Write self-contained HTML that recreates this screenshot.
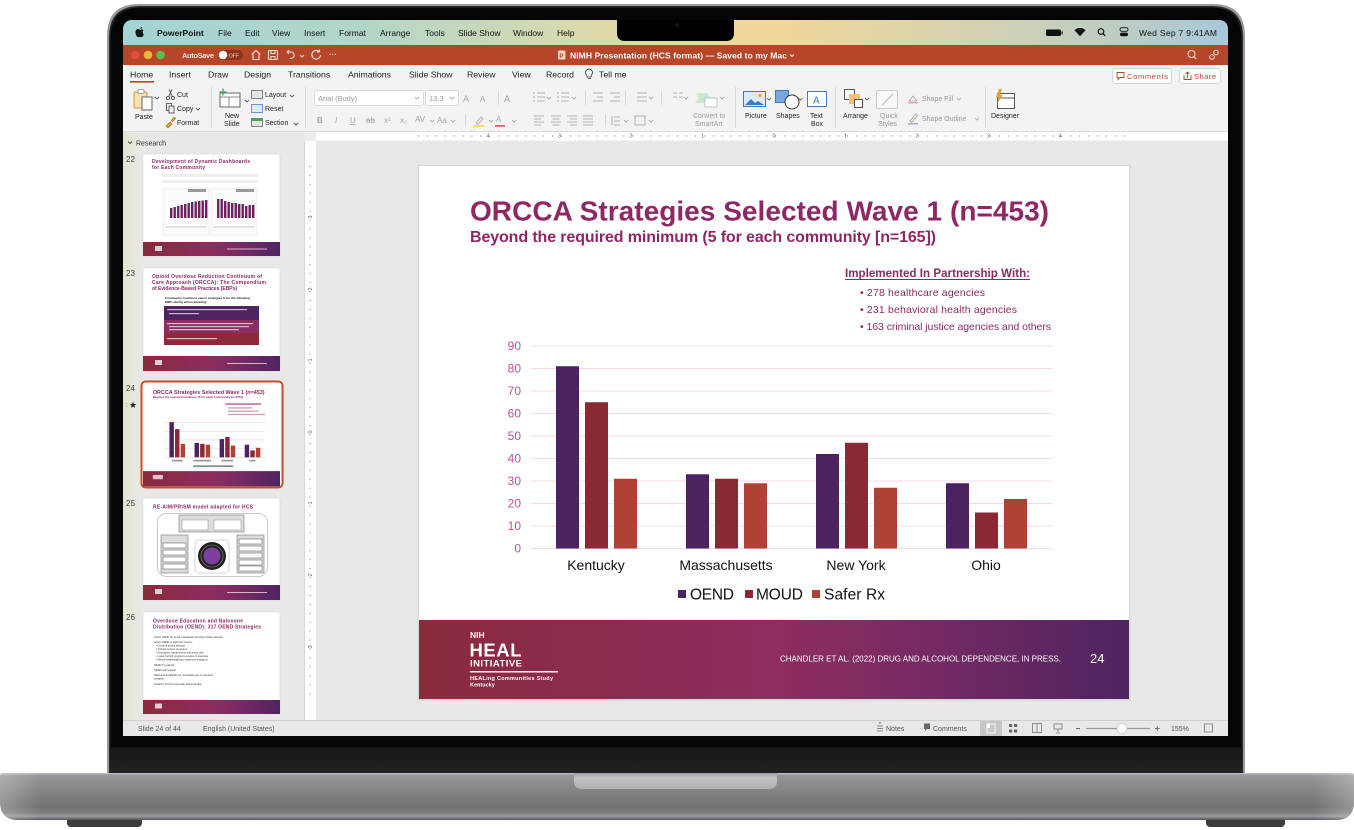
<!DOCTYPE html>
<html><head><meta charset="utf-8">
<style>
html,body{margin:0;padding:0;background:#fff;width:1354px;height:830px;overflow:hidden}
svg{display:block}
text{font-family:"Liberation Sans",Arial,sans-serif}
</style></head><body>
<svg width="1354" height="830" viewBox="0 0 1354 830" xmlns="http://www.w3.org/2000/svg">
<defs>
  <linearGradient id="menuG" x1="123" x2="1228" y1="0" y2="0" gradientUnits="userSpaceOnUse">
    <stop offset="0" stop-color="#A3D3D5"/>
    <stop offset="0.22" stop-color="#B3D6C8"/>
    <stop offset="0.38" stop-color="#D2D9B3"/>
    <stop offset="0.5" stop-color="#EDD89C"/>
    <stop offset="0.6" stop-color="#EFD79A"/>
    <stop offset="0.75" stop-color="#D8D2AE"/>
    <stop offset="0.9" stop-color="#BDCDC3"/>
    <stop offset="1" stop-color="#A7C8DA"/>
  </linearGradient>
  <linearGradient id="foot" x1="0" x2="1" y1="0" y2="0">
    <stop offset="0" stop-color="#8A2A3B"/>
    <stop offset="0.25" stop-color="#8C2B4E"/>
    <stop offset="0.5" stop-color="#8F2D60"/>
    <stop offset="0.75" stop-color="#722963"/>
    <stop offset="1" stop-color="#4E2461"/>
  </linearGradient>
  <linearGradient id="baseG" x1="0" x2="0" y1="773" y2="820" gradientUnits="userSpaceOnUse">
    <stop offset="0" stop-color="#c4c4c8"/>
    <stop offset="0.05" stop-color="#96969a"/>
    <stop offset="0.4" stop-color="#838387"/>
    <stop offset="0.72" stop-color="#727276"/>
    <stop offset="0.85" stop-color="#7e7e82"/>
    <stop offset="0.92" stop-color="#9a9a9e"/>
    <stop offset="1" stop-color="#56565a"/>
  </linearGradient>
  <linearGradient id="baseH" x1="0" x2="1354" y1="0" y2="0" gradientUnits="userSpaceOnUse">
    <stop offset="0" stop-color="#ffffff" stop-opacity="0.25"/>
    <stop offset="0.03" stop-color="#ffffff" stop-opacity="0"/>
    <stop offset="0.97" stop-color="#ffffff" stop-opacity="0"/>
    <stop offset="1" stop-color="#ffffff" stop-opacity="0.25"/>
  </linearGradient>
  <linearGradient id="notchG" x1="0" x2="0" y1="773" y2="789" gradientUnits="userSpaceOnUse">
    <stop offset="0" stop-color="#9c9ca0"/>
    <stop offset="0.3" stop-color="#c2c2c6"/>
    <stop offset="1" stop-color="#b0b0b4"/>
  </linearGradient>
  <linearGradient id="chinG" x1="0" x2="0" y1="747" y2="773" gradientUnits="userSpaceOnUse">
    <stop offset="0" stop-color="#161616"/>
    <stop offset="1" stop-color="#222222"/>
  </linearGradient>
  <linearGradient id="panelTint" x1="123" x2="150" y1="0" y2="0" gradientUnits="userSpaceOnUse">
    <stop offset="0" stop-color="#E2E6CC"/>
    <stop offset="1" stop-color="#E8E8E8" stop-opacity="0"/>
  </linearGradient>
  <pattern id="rtick" x="418" y="131" width="8.9375" height="10" patternUnits="userSpaceOnUse">
    <rect x="0" y="4" width="0.7" height="2" fill="#9a9a9a"/>
  </pattern>
  <pattern id="vtick" x="304" y="166" width="12" height="8.9375" patternUnits="userSpaceOnUse">
    <rect x="5" y="0" width="2" height="0.7" fill="#9a9a9a"/>
  </pattern>
  <clipPath id="scr"><path d="M123,736 L123,30 Q123,20 133,20 L1218,20 Q1228,20 1228,30 L1228,736 Z"/></clipPath>
</defs>

<!-- LAPTOP BASE -->
<rect x="67" y="815" width="75" height="12" rx="4" fill="#3c3c3e"/>
<rect x="1206" y="815" width="79" height="12" rx="4" fill="#3c3c3e"/>
<path d="M2,773 L1352,773 Q1354,773 1354,776 L1354,802 Q1354,820 1336,820 L18,820 Q0,820 0,802 L0,776 Q0,773 2,773 Z" fill="url(#baseG)"/>
<rect x="0" y="773" width="1354" height="47" fill="url(#baseH)"/>
<path d="M574,773 L777,773 L777,781 Q777,789 769,789 L582,789 Q574,789 574,781 Z" fill="url(#notchG)"/>

<!-- LID -->
<path d="M107,773 L107,36 Q107,4 139,4 L1213,4 Q1245,4 1245,36 L1245,773 Z" fill="#9a9a9c"/>
<path d="M109,773 L109,37 Q109,6 140,6 L1212,6 Q1243,6 1243,37 L1243,773 Z" fill="#2a2a2a"/>
<path d="M110.5,773 L110.5,38 Q110.5,7.5 141,7.5 L1211,7.5 Q1241.5,7.5 1241.5,38 L1241.5,773 Z" fill="#050505"/>
<rect x="110" y="747" width="1132" height="26" fill="url(#chinG)"/>

<!-- SCREEN -->
<g clip-path="url(#scr)">
  <rect x="123" y="20" width="1105" height="716" fill="#E8E8E8"/>
  <!-- menu bar -->
  <rect x="123" y="20" width="1105" height="25" fill="url(#menuG)"/>
  <path d="M139.6,29.6 c-1.4,-0.9 -4.1,-0.6 -4.1,2.7 c0,2.6 1.6,4.9 2.7,4.9 c0.7,0 1,-0.4 1.6,-0.4 c0.6,0 0.9,0.4 1.6,0.4 c1,0 2.2,-2 2.5,-3 c-1.4,-0.6 -1.7,-2.8 -0.3,-3.8 c-0.8,-1.2 -2.4,-1.3 -3,-0.8 c-0.5,0.3 -0.7,0.3 -1,0z M140.3,29 c0,-1.2 0.8,-2 1.8,-2.1 c0.1,1.1 -0.8,2.1 -1.8,2.1z" fill="#111"/>
  <g font-size="8.5" fill="#111">
    <text x="157" y="36" font-weight="bold">PowerPoint</text>
    <text x="218" y="36">File</text>
    <text x="245" y="36">Edit</text>
    <text x="272" y="36">View</text>
    <text x="304" y="36">Insert</text>
    <text x="339" y="36">Format</text>
    <text x="380" y="36">Arrange</text>
    <text x="425" y="36">Tools</text>
    <text x="458" y="36">Slide Show</text>
    <text x="513" y="36">Window</text>
    <text x="557" y="36">Help</text>
    <text x="1139" y="36" textLength="78">Wed Sep 7 9:41AM</text>
  </g>
  <rect x="1046" y="29.5" width="15" height="6.5" rx="1.5" fill="#111"/>
  <rect x="1061.5" y="31.3" width="1.2" height="3" fill="#111"/>
  <path d="M1074.5,30.2 a8,8 0 0 1 11,0 l-5.5,6 z" fill="#111"/>
  <circle cx="1101" cy="31.5" r="2.8" fill="none" stroke="#111" stroke-width="1.2"/>
  <line x1="1103" y1="33.6" x2="1105.2" y2="35.8" stroke="#111" stroke-width="1.3"/>
  <rect x="1120" y="27.7" width="8" height="3.6" rx="1.8" fill="none" stroke="#111" stroke-width="0.9"/>
  <rect x="1120" y="32.6" width="8" height="3.6" rx="1.8" fill="#111"/>
  <!-- notch -->
  <path d="M617,18 L734,18 L734,33 Q734,41 726,41 L625,41 Q617,41 617,33 Z" fill="#000"/>
  <circle cx="677" cy="25" r="2" fill="#15151f"/>

  <!-- title bar -->
  <rect x="123" y="45" width="1105" height="20" fill="#B5462A"/>
  <circle cx="135" cy="55" r="4.3" fill="#E5493F"/>
  <circle cx="148" cy="55" r="4.3" fill="#F2B53A"/>
  <circle cx="160.5" cy="55" r="4.3" fill="#5BC149"/>
  <text x="182" y="58" font-size="7.5" font-weight="bold" fill="#F7E3DC" textLength="32">AutoSave</text>
  <rect x="218" y="50" width="25" height="10" rx="5" fill="#8E3219"/>
  <circle cx="223" cy="55" r="4.3" fill="#fff"/>
  <text x="229" y="57.3" font-size="5" fill="#F3D6CC">OFF</text>
  <g fill="none" stroke="#F6DED6" stroke-width="1.1">
    <path d="M251.5,54.5 L256,50.5 L260.5,54.5 M253,53.5 V59.5 H259 V53.5"/>
    <rect x="268.5" y="50.5" width="9" height="9" rx="1.2"/>
    <path d="M271,50.5 v3 h4 v-3 M271,59.5 v-3 h4 v3"/>
    <path d="M287,52 h4 a3.2,3.2 0 0 1 0,6.4 h-1.5 M287,52 l2,-2 M287,52 l2,2"/>
    <path d="M300,55 l2,2 l2,-2"/>
    <path d="M319.5,52 a4.3,4.3 0 1 0 1,3 M319.5,52 v-2.5 M319.5,52 h-2.5"/>
  </g>
  <text x="329" y="57" font-size="8" font-weight="bold" fill="#F6DED6">···</text>
  <rect x="558" y="50.5" width="7.5" height="9" rx="1" fill="#F4D3C8"/>
  <text x="559.4" y="58" font-size="6" font-weight="bold" fill="#B5462A">P</text>
  <text x="570" y="58.5" font-size="8.5" font-weight="bold" fill="#fff" textLength="217">NIMH Presentation (HCS format) — Saved to my Mac</text>
  <path d="M790,54.5 l2,2 l2,-2" fill="none" stroke="#fff" stroke-width="0.9"/>
  <circle cx="1191.5" cy="54" r="3.5" fill="none" stroke="#F6DED6" stroke-width="1"/>
  <line x1="1194" y1="56.6" x2="1196.3" y2="59" stroke="#F6DED6" stroke-width="1.1"/>
  <circle cx="1216" cy="52.5" r="2.3" fill="none" stroke="#F6DED6" stroke-width="1"/>
  <circle cx="1212" cy="57" r="2.3" fill="none" stroke="#F6DED6" stroke-width="1"/>

  <!-- tabs + ribbon -->
  <rect x="123" y="65" width="1105" height="66" fill="#F3F3F3"/>
  <g font-size="8.7" fill="#222">
    <text x="130" y="77.5">Home</text>
    <text x="169" y="77.5">Insert</text>
    <text x="208" y="77.5">Draw</text>
    <text x="244" y="77.5">Design</text>
    <text x="288" y="77.5">Transitions</text>
    <text x="348" y="77.5">Animations</text>
    <text x="409" y="77.5">Slide Show</text>
    <text x="467" y="77.5">Review</text>
    <text x="512" y="77.5">View</text>
    <text x="546" y="77.5">Record</text>
    <text x="599" y="77.5">Tell me</text>
  </g>
  <rect x="130" y="81" width="24" height="1.6" fill="#B5462A"/>
  <path d="M586.5,75 a3.5,3.5 0 1 1 5,0 l-0.6,2 h-3.8 z M588,78.5 h3" fill="none" stroke="#333" stroke-width="0.8"/>
  <rect x="1112.5" y="68.5" width="59" height="15" rx="2.5" fill="#fff" stroke="#D6D6D6"/>
  <path d="M1117,72.5 h7 v5 h-4 l-2,2 v-2 h-1 z" fill="none" stroke="#B5462A" stroke-width="0.9"/>
  <text x="1127" y="79" font-size="7.5" fill="#B5462A" textLength="41">Comments</text>
  <rect x="1179.5" y="68.5" width="41" height="15" rx="2.5" fill="#fff" stroke="#D6D6D6"/>
  <path d="M1184,75 v4.5 h7 v-4.5 M1187.5,78 v-6 M1185.5,74 l2,-2 l2,2" fill="none" stroke="#B5462A" stroke-width="0.9"/>
  <text x="1194" y="79" font-size="7.5" fill="#B5462A" textLength="22">Share</text>

  <!-- ribbon content -->
  <g stroke="#D9D9D9" stroke-width="1">
    <line x1="211.5" y1="87" x2="211.5" y2="128"/>
    <line x1="305.5" y1="87" x2="305.5" y2="128"/>
    <line x1="735.5" y1="87" x2="735.5" y2="128"/>
    <line x1="835.5" y1="87" x2="835.5" y2="128"/>
    <line x1="985.5" y1="87" x2="985.5" y2="128"/>
    <line x1="498.5" y1="91" x2="498.5" y2="105"/>
    <line x1="465.5" y1="114" x2="465.5" y2="127"/>
    <line x1="585.5" y1="91" x2="585.5" y2="105"/>
    <line x1="625.5" y1="91" x2="625.5" y2="105"/>
    <line x1="661.5" y1="91" x2="661.5" y2="105"/>
    <line x1="605.5" y1="114" x2="605.5" y2="127"/>
  </g>
  <!-- paste -->
  <rect x="134" y="92" width="13" height="16" rx="1" fill="#F8DFB4" stroke="#D99A3A"/>
  <rect x="138" y="89.5" width="6" height="4" rx="1" fill="#fff" stroke="#888" stroke-width="0.8"/>
  <rect x="142" y="97" width="10" height="13" fill="#fff" stroke="#666"/>
  <g fill="none" stroke="#555" stroke-width="0.9">
    <path d="M155,97 l2,2 l2,-2"/>
    <circle cx="168" cy="98" r="1.6"/><circle cx="173" cy="98" r="1.6"/>
    <path d="M168.7,96.5 L172,89.5 M172.3,96.5 L169,89.5"/>
    <rect x="166.5" y="103.5" width="5" height="7"/><rect x="169" y="106" width="5" height="7" fill="#F3F3F3"/>
    <path d="M196,108 l2,2 l2,-2 M245,100 l2,2 l2,-2 M290,95 l2,2 l2,-2 M294,123 l2,2 l2,-2"/>
  </g>
  <path d="M166,126 l4,-4 l2,2 l-4,4 z M171,121 l3,-4 l1.5,1.5 l-3,3.5" fill="#E8A33C" stroke="#9A6A20" stroke-width="0.6"/>
  <g font-size="7" fill="#262626">
    <text x="135" y="119">Paste</text>
    <text x="177" y="97">Cut</text>
    <text x="177" y="111">Copy</text>
    <text x="177" y="125">Format</text>
    <text x="225" y="118">New</text>
    <text x="224" y="126">Slide</text>
    <text x="265" y="97">Layout</text>
    <text x="265" y="111">Reset</text>
    <text x="265" y="125">Section</text>
    <text x="745" y="118">Picture</text>
    <text x="776" y="118">Shapes</text>
    <text x="810" y="118">Text</text>
    <text x="811" y="126">Box</text>
    <text x="843" y="118">Arrange</text>
    <text x="991" y="118">Designer</text>
  </g>
  <!-- new slide -->
  <rect x="220" y="93" width="20" height="14" fill="#fff" stroke="#666"/>
  <line x1="220" y1="97" x2="240" y2="97" stroke="#666" stroke-width="0.7"/>
  <line x1="229" y1="97" x2="229" y2="107" stroke="#666" stroke-width="0.7"/>
  <path d="M223,88.5 v7 M219.5,92 h7" stroke="#3DAA55" stroke-width="1.4"/>
  <rect x="251.5" y="90.5" width="11" height="8" fill="#E6E6E6" stroke="#666" stroke-width="0.8"/>
  <rect x="251.5" y="104.5" width="11" height="8" fill="#DCE9F7" stroke="#4A82C4" stroke-width="0.8"/>
  <rect x="251.5" y="118.5" width="11" height="8" fill="#E6E6E6" stroke="#666" stroke-width="0.8"/>
  <rect x="251.5" y="118.5" width="11" height="2.5" fill="#3DAA55"/>
  <!-- font group -->
  <rect x="314.5" y="90.5" width="109" height="15" rx="2" fill="#fff" stroke="#DADADA"/>
  <text x="318" y="101" font-size="7.5" fill="#9A9A9A">Arial (Body)</text>
  <rect x="425.5" y="90.5" width="33" height="15" rx="2" fill="#fff" stroke="#DADADA"/>
  <text x="429" y="101" font-size="7.5" fill="#9A9A9A">13.3</text>
  <g fill="none" stroke="#9A9A9A" stroke-width="0.8">
    <path d="M415,97 l2,2 l2,-2 M450,97 l2,2 l2,-2"/>
    <path d="M430,120 l2,2 l2,-2 M451,120 l2,2 l2,-2 M489,120 l2,2 l2,-2 M512,120 l2,2 l2,-2"/>
    <path d="M547,97 l2,2 l2,-2 M572,97 l2,2 l2,-2 M649,97 l2,2 l2,-2 M684,97 l2,2 l2,-2 M624,120 l2,2 l2,-2 M649,120 l2,2 l2,-2 M720,97 l2,2 l2,-2"/>
    <path d="M533,93 h2 M537,93 h8 M533,97 h2 M537,97 h8 M533,101 h2 M537,101 h8"/>
    <path d="M557,93 h2 M561,93 h8 M557,97 h2 M561,97 h8 M557,101 h2 M561,101 h8"/>
    <path d="M593,93 h10 M597,97 h6 M593,101 h10 M610,93 h10 M614,97 h6 M610,101 h10"/>
    <path d="M637,93 h10 M637,97 h10 M637,101 h10 M673,93 h4 M679,93 h4 M673,97 h4 M679,97 h4"/>
    <path d="M534,116 h10 M534,119 h7 M534,122 h10 M534,125 h7"/>
    <path d="M551,116 h10 M552.5,119 h7 M551,122 h10 M552.5,125 h7"/>
    <path d="M567,116 h10 M570,119 h7 M567,122 h10 M570,125 h7"/>
    <path d="M583,116 h10 M583,119 h10 M583,122 h10 M583,125 h10"/>
    <path d="M612,116 v9 M614,117 h6 M614,121 h6 M614,125 h6 M635,116 h10 v9 h-10 z"/>
  </g>
  <g font-size="9" fill="#A5A5A5">
    <text x="463" y="102">A</text><text x="480" y="102" font-size="8">A</text>
    <text x="504" y="102" font-size="9">A</text>
  </g>
  <g font-size="8" fill="#A5A5A5">
    <text x="317" y="123" font-weight="bold">B</text>
    <text x="335" y="123" font-style="italic">I</text>
    <text x="350" y="123" text-decoration="underline">U</text>
    <text x="366" y="123">ab</text>
    <text x="384" y="123">x²</text>
    <text x="400" y="123">x₂</text>
    <text x="415" y="122">AV</text>
    <text x="437" y="123">Aa</text>
    <text x="496" y="122">A</text>
  </g>
  <line x1="366" y1="120" x2="375" y2="120" stroke="#A5A5A5" stroke-width="0.7"/>
  <path d="M476,123 l5,-6 l2,1.5 l-5,6 z" fill="none" stroke="#A5A5A5" stroke-width="0.8"/>
  <rect x="473" y="125" width="11" height="1.8" fill="#F2DE55"/>
  <rect x="495" y="125" width="10" height="1.8" fill="#E06666"/>
  <!-- smartart -->
  <path d="M695,93 h12 l4,5 l-4,5 h-12 l4,-5 z" fill="#CDE8CF"/>
  <rect x="705" y="98" width="12" height="9" fill="#fff" stroke="#AAA" stroke-width="0.7"/>
  <g font-size="7" fill="#9A9A9A">
    <text x="693" y="118">Convert to</text>
    <text x="695" y="126">SmartArt</text>
    <text x="880" y="118">Quick</text>
    <text x="878" y="126">Styles</text>
    <text x="922" y="101">Shape Fill</text>
    <text x="922" y="121">Shape Outline</text>
  </g>
  <!-- picture shapes textbox -->
  <rect x="743.5" y="91.5" width="22" height="15" fill="#DDEBF8" stroke="#3B7BC8"/>
  <path d="M745,105 l6,-6 l4,4 l3,-2 l6,4 z" fill="#3B7BC8"/>
  <circle cx="760" cy="95.5" r="1.6" fill="#E6A23C"/>
  <rect x="775.5" y="90.5" width="13" height="12" fill="#7BA7DD" stroke="#3B7BC8"/>
  <circle cx="792" cy="102" r="7" fill="#fff" stroke="#333"/>
  <rect x="807.5" y="91.5" width="19" height="15" fill="#fff" stroke="#3B7BC8"/>
  <text x="813" y="103.5" font-size="10" fill="#3B7BC8">A</text>
  <g fill="none" stroke="#555" stroke-width="0.8">
    <path d="M767,98 l2,2 l2,-2 M798.5,98 l2,2 l2,-2 M865,98 l2,2 l2,-2"/>
  </g>
  <!-- arrange -->
  <rect x="844.5" y="89.5" width="10" height="10" fill="#fff" stroke="#555"/>
  <rect x="849" y="94" width="11" height="10" fill="#F4C36B"/>
  <rect x="854.5" y="99.5" width="8" height="8" fill="#fff" stroke="#555"/>
  <rect x="876.5" y="90.5" width="21" height="18" rx="1" fill="#F8F8F8" stroke="#CCC"/>
  <path d="M882,105 l11,-11" stroke="#C8C8C8" stroke-width="1.5"/>
  <path d="M909,101 l4,-5 l4,5 z" fill="none" stroke="#A5A5A5" stroke-width="0.8"/>
  <rect x="908" y="102" width="10" height="1.5" fill="#E9A9B4"/>
  <path d="M910,121 l6,-7 l1.5,1.5 l-6,7 z" fill="none" stroke="#A5A5A5" stroke-width="0.8"/>
  <rect x="908" y="123" width="10" height="1.5" fill="#B8A0D0"/>
  <path d="M957,98 l2,2 l2,-2 M975,118 l2,2 l2,-2" fill="none" stroke="#A5A5A5" stroke-width="0.8"/>
  <!-- designer -->
  <rect x="997.5" y="93.5" width="17" height="15" fill="#fff" stroke="#555"/>
  <line x1="997.5" y1="98" x2="1014.5" y2="98" stroke="#555"/>
  <path d="M999,89 l-3,8 h3 l-2,7 l6,-9 h-3 l2,-6 z" fill="#F0A030"/>

  <line x1="123" y1="131.5" x2="1228" y2="131.5" stroke="#DADADA"/>

  <!-- left panel -->
  <rect x="123" y="132" width="181" height="588" fill="#E8E8E8"/>
  <rect x="123" y="132" width="27" height="588" fill="url(#panelTint)"/>
  <path d="M128,141.5 l2,2 l2,-2" fill="none" stroke="#444" stroke-width="0.9"/>
  <text x="136" y="145.5" font-size="7" fill="#333">Research</text>
  <g font-size="8" fill="#3a3a3a">
    <text x="126" y="162">22</text>
    <text x="126" y="276">23</text>
    <text x="126" y="391">24</text>
    <text x="126" y="506">25</text>
    <text x="126" y="620">26</text>
  </g>
  <text x="126" y="407" font-size="6" fill="#333">:</text>
  <text x="129" y="408" font-size="9" fill="#222">★</text>

  <!-- thumb 22 -->
  <rect x="143" y="154" width="137" height="102" rx="2" fill="#fff" stroke="#D4D4D4" stroke-width="0.6"/>
  <g font-size="5" font-weight="bold" fill="#8E2864">
    <text x="152" y="163" textLength="98">Development of Dynamic Dashboards</text>
    <text x="152" y="169" textLength="53">for Each Community</text>
  </g>
  <rect x="162" y="174" width="96" height="3" fill="#eee"/>
  <rect x="162" y="180" width="96" height="3" fill="#eee"/>
  <rect x="163" y="188" width="46" height="48" fill="#fafafa" stroke="#ddd" stroke-width="0.4"/>
  <rect x="211" y="188" width="46" height="48" fill="#fafafa" stroke="#ddd" stroke-width="0.4"/>
  <rect x="188" y="189" width="18" height="3" fill="#999"/>
  <rect x="236" y="189" width="18" height="3" fill="#999"/>
  <g fill="#6E2160">
    <rect x="170" y="208" width="2.4" height="10"/><rect x="173.5" y="207" width="2.4" height="11"/><rect x="177" y="206" width="2.4" height="12"/><rect x="180.5" y="205" width="2.4" height="13"/><rect x="184" y="204" width="2.4" height="14"/><rect x="187.5" y="203" width="2.4" height="15"/><rect x="191" y="202" width="2.4" height="16"/><rect x="194.5" y="201.5" width="2.4" height="16.5"/><rect x="198" y="201" width="2.4" height="17"/><rect x="201.5" y="200.5" width="2.4" height="17.5"/><rect x="205" y="200" width="2.4" height="18"/>
    <rect x="217" y="199" width="2.4" height="19"/><rect x="220.5" y="199" width="2.4" height="19"/><rect x="224" y="201" width="2.4" height="17"/><rect x="227.5" y="202" width="2.4" height="16"/><rect x="231" y="203" width="2.4" height="15"/><rect x="234.5" y="203" width="2.4" height="15"/><rect x="238" y="204" width="2.4" height="14"/><rect x="241.5" y="204" width="2.4" height="14"/><rect x="245" y="206" width="2.4" height="12"/><rect x="248.5" y="205" width="2.4" height="13"/><rect x="252" y="205" width="2.4" height="13"/>
  </g>
  <rect x="165" y="226" width="42" height="2" fill="#e2e2e2"/>
  <rect x="213" y="226" width="42" height="2" fill="#e2e2e2"/>
  <rect x="143" y="242" width="137" height="14" fill="url(#foot)"/>
  <rect x="155" y="246" width="7" height="5" fill="#e8c9d4"/>
  <rect x="227" y="248.5" width="40" height="1" fill="#d7b6c6"/>

  <!-- thumb 23 -->
  <rect x="143" y="268" width="137" height="103" rx="2" fill="#fff" stroke="#D4D4D4" stroke-width="0.6"/>
  <g font-size="5" font-weight="bold" fill="#8E2864">
    <text x="152" y="278" textLength="110">Opioid Overdose Reduction Continuum of</text>
    <text x="152" y="284" textLength="114">Care Approach (ORCCA): The Compendium</text>
    <text x="152" y="290" textLength="85">of Evidence-Based Practices (EBPs)</text>
  </g>
  <g font-size="3" font-weight="bold" fill="#111">
    <text x="165" y="299" textLength="85">Community coalitions select strategies from the following</text>
    <text x="165" y="303" textLength="42">EBPs during action planning:</text>
  </g>
  <rect x="164" y="306" width="95" height="14" fill="#4E2462"/>
  <rect x="164" y="320" width="95" height="13" fill="#8A2D62"/>
  <rect x="164" y="333" width="95" height="12" fill="#8A2A3A"/>
  <rect x="167" y="309" width="80" height="1.2" fill="#c9b6d6"/>
  <rect x="169" y="313" width="30" height="1.2" fill="#c9b6d6"/>
  <rect x="167" y="323" width="86" height="1.2" fill="#dcbccc"/>
  <rect x="169" y="326" width="80" height="1.2" fill="#dcbccc"/>
  <rect x="169" y="329" width="70" height="1.2" fill="#dcbccc"/>
  <rect x="167" y="338" width="50" height="1.2" fill="#dcbcc0"/>
  <rect x="143" y="356" width="137" height="15" fill="url(#foot)"/>
  <rect x="155" y="360" width="7" height="5" fill="#e8c9d4"/>
  <rect x="227" y="363" width="40" height="1" fill="#d7b6c6"/>

  <!-- thumb 24 (selected) -->
  <rect x="141.5" y="381.5" width="141" height="106" rx="4" fill="#fff" stroke="#C4502E" stroke-width="2"/>
  <g transform="translate(143,383.5) scale(0.193) translate(-419,-166)">
    <text x="470" y="220.5" font-size="28" font-weight="bold" fill="#8E2864" textLength="579">ORCCA Strategies Selected Wave 1 (n=453)</text>
    <text x="470" y="242" font-size="16" font-weight="bold" fill="#8E2864" textLength="466">Beyond the required minimum (5 for each community [n=165])</text>
    <rect x="845" y="268" width="185" height="9" fill="#b7809c"/>
    <rect x="860" y="289" width="125" height="7" fill="#c9a2b6"/>
    <rect x="860" y="306" width="157" height="7" fill="#c9a2b6"/>
    <rect x="860" y="323" width="191" height="7" fill="#c9a2b6"/>
    <g stroke="#F2CFE0" stroke-width="3">
      <line x1="531" y1="548.5" x2="1052" y2="548.5"/><line x1="531" y1="503.5" x2="1052" y2="503.5"/><line x1="531" y1="458.5" x2="1052" y2="458.5"/><line x1="531" y1="413.5" x2="1052" y2="413.5"/><line x1="531" y1="368.5" x2="1052" y2="368.5"/>
    </g>
    <g fill="#4A2360"><rect x="556" y="366.25" width="23" height="182.25"/><rect x="686" y="474.25" width="23" height="74.25"/><rect x="816" y="454" width="23" height="94.5"/><rect x="946" y="483.25" width="23" height="65.25"/></g>
    <g fill="#8A2834"><rect x="585" y="402.25" width="23" height="146.25"/><rect x="715" y="478.75" width="23" height="69.75"/><rect x="845" y="442.75" width="23" height="105.75"/><rect x="975" y="512.5" width="23" height="36"/></g>
    <g fill="#B04135"><rect x="614" y="478.75" width="23" height="69.75"/><rect x="744" y="483.25" width="23" height="65.25"/><rect x="874" y="487.75" width="23" height="60.75"/><rect x="1004" y="499" width="23" height="49.5"/></g>
    <rect x="568" y="561" width="56" height="9" fill="#999"/><rect x="680" y="561" width="91" height="9" fill="#999"/><rect x="827" y="561" width="58" height="9" fill="#999"/><rect x="971" y="561" width="30" height="9" fill="#999"/>
    <rect x="678" y="590" width="208" height="9" fill="#888"/>
    <rect x="419" y="620" width="710" height="79" fill="url(#foot)"/>
    <rect x="470" y="640" width="52" height="22" fill="#e4c2cf"/>
  </g>

  <!-- thumb 25 -->
  <rect x="143" y="498" width="137" height="102" rx="2" fill="#fff" stroke="#D4D4D4" stroke-width="0.6"/>
  <text x="153" y="508.5" font-size="5" font-weight="bold" fill="#8E2864" textLength="100">RE-AIM/PRISM model adapted for HCS</text>
  <rect x="157.5" y="513.5" width="110" height="63" rx="9" fill="#fff" stroke="#bbb" stroke-width="0.8"/>
  <rect x="179" y="515" width="65" height="17" fill="#ddd" stroke="#777" stroke-width="0.6"/>
  <rect x="182" y="520" width="26" height="10" fill="#fff" stroke="#777" stroke-width="0.4"/>
  <rect x="214" y="520" width="27" height="10" fill="#fff" stroke="#777" stroke-width="0.4"/>
  <rect x="161" y="535" width="27" height="38" fill="#ddd" stroke="#777" stroke-width="0.6"/>
  <rect x="237" y="535" width="27" height="38" fill="#ddd" stroke="#777" stroke-width="0.6"/>
  <g fill="#fff" stroke="#555" stroke-width="0.5">
    <rect x="163" y="543" width="23" height="5"/><rect x="163" y="550" width="23" height="5"/><rect x="163" y="557" width="23" height="5"/><rect x="163" y="564" width="23" height="5"/>
    <rect x="239" y="539" width="23" height="5"/><rect x="239" y="546" width="23" height="5"/><rect x="239" y="553" width="23" height="5"/><rect x="239" y="560" width="23" height="5"/><rect x="239" y="566" width="23" height="5"/>
  </g>
  <rect x="195" y="540" width="34" height="33" rx="4" fill="#fff" stroke="#aaa" stroke-width="0.5"/>
  <circle cx="212" cy="556" r="14" fill="#222"/>
  <circle cx="212" cy="556" r="11" fill="none" stroke="#888" stroke-width="0.6"/>
  <circle cx="212" cy="556" r="8.5" fill="#7B3FA0"/>
  <rect x="143" y="585" width="137" height="15" fill="url(#foot)"/>
  <rect x="155" y="589" width="7" height="5" fill="#e8c9d4"/>
  <rect x="227" y="592" width="40" height="1" fill="#d7b6c6"/>

  <!-- thumb 26 -->
  <rect x="143" y="612" width="137" height="102" rx="2" fill="#fff" stroke="#D4D4D4" stroke-width="0.6"/>
  <g font-size="5" font-weight="bold" fill="#8E2864">
    <text x="153" y="622.5" textLength="90">Overdose Education and Naloxone</text>
    <text x="153" y="628.5" textLength="108">Distribution (OEND): 317 OEND Strategies</text>
  </g>
  <g font-size="2.6" fill="#333">
    <text x="154" y="638">Active OEND for at-risk individuals and their social networks</text>
    <text x="154" y="643">Active OEND at high-risk venues:</text>
    <text x="156" y="646.5">•  Criminal justice settings</text>
    <text x="156" y="650">•  Syringe service programs</text>
    <text x="156" y="653.5">•  Emergency departments and acute care</text>
    <text x="156" y="657">•  Leave behind programs at sites of overdose</text>
    <text x="156" y="660.5">•  Mental health/addiction treatment programs</text>
    <text x="154" y="666">OEND by referral</text>
    <text x="154" y="671">OEND self-request</text>
    <text x="154" y="676">Naloxone availability for immediate use in overdose</text>
    <text x="154" y="679.5">hotspots</text>
    <text x="154" y="685">Capacity for first responder administration</text>
  </g>
  <rect x="143" y="700" width="137" height="14" fill="url(#foot)"/>
  <rect x="155" y="703.5" width="7" height="5" fill="#e8c9d4"/>

  <!-- rulers -->
  <rect x="304" y="132" width="924" height="9" fill="#EDEDED"/>
  <rect x="316" y="132" width="912" height="8.5" fill="#fff"/>
  <rect x="418" y="131" width="710" height="10" fill="url(#rtick)"/>
  <g font-size="5.5" fill="#666" text-anchor="middle">
    <text x="488" y="137.5">4</text><text x="559.5" y="137.5">3</text><text x="631" y="137.5">2</text><text x="702.5" y="137.5">1</text><text x="774" y="137.5">0</text><text x="845.5" y="137.5">1</text><text x="917" y="137.5">2</text><text x="988.5" y="137.5">3</text><text x="1060" y="137.5">4</text>
  </g>
  <rect x="304" y="141" width="12" height="579" fill="#fff"/>
  <line x1="304.5" y1="141" x2="304.5" y2="720" stroke="#D8D8D8"/>
  <rect x="304" y="166" width="12" height="533" fill="url(#vtick)"/>
  <g font-size="5.5" fill="#666" text-anchor="middle">
    <text transform="translate(312,217) rotate(-90)">3</text>
    <text transform="translate(312,289) rotate(-90)">2</text>
    <text transform="translate(312,360) rotate(-90)">1</text>
    <text transform="translate(312,432) rotate(-90)">0</text>
    <text transform="translate(312,503) rotate(-90)">1</text>
    <text transform="translate(312,575) rotate(-90)">2</text>
    <text transform="translate(312,647) rotate(-90)">3</text>
  </g>

  <!-- canvas -->
  <rect x="316" y="141" width="912" height="579" fill="#E8E8E8"/>
  <rect x="417.5" y="165" width="713" height="536" fill="#D9D9D9"/>
  <rect x="419" y="166" width="710" height="533" fill="#fff"/>

  <!-- SLIDE CONTENT -->
  <text x="470" y="220.5" font-size="28" font-weight="bold" fill="#8E2864" textLength="579">ORCCA Strategies Selected Wave 1 (n=453)</text>
  <text x="470" y="242" font-size="16" font-weight="bold" fill="#8E2864" textLength="466">Beyond the required minimum (5 for each community [n=165])</text>
  <text x="845" y="277" font-size="11.5" font-weight="bold" fill="#8A2A5E" textLength="185">Implemented In Partnership With:</text>
  <line x1="845" y1="279.5" x2="1030" y2="279.5" stroke="#8A2A5E" stroke-width="1"/>
  <g font-size="10.5" fill="#8A2A5E">
    <text x="860" y="296" textLength="125">• 278 healthcare agencies</text>
    <text x="860" y="313" textLength="157">• 231 behavioral health agencies</text>
    <text x="860" y="330" textLength="191">• 163 criminal justice agencies and others</text>
  </g>

  <g stroke="#F6D9E6" stroke-width="1">
    <line x1="531" y1="548.5" x2="1052" y2="548.5"/>
    <line x1="531" y1="526" x2="1052" y2="526"/>
    <line x1="531" y1="503.5" x2="1052" y2="503.5"/>
    <line x1="531" y1="481" x2="1052" y2="481"/>
    <line x1="531" y1="458.5" x2="1052" y2="458.5"/>
    <line x1="531" y1="436" x2="1052" y2="436"/>
    <line x1="531" y1="413.5" x2="1052" y2="413.5"/>
    <line x1="531" y1="391" x2="1052" y2="391"/>
    <line x1="531" y1="368.5" x2="1052" y2="368.5"/>
    <line x1="531" y1="346" x2="1052" y2="346"/>
  </g>
  <g font-size="12" fill="#C54A9C" text-anchor="end">
    <text x="521" y="552.5">0</text>
    <text x="521" y="530">10</text>
    <text x="521" y="507.5">20</text>
    <text x="521" y="485">30</text>
    <text x="521" y="462.5">40</text>
    <text x="521" y="440">50</text>
    <text x="521" y="417.5">60</text>
    <text x="521" y="395">70</text>
    <text x="521" y="372.5">80</text>
    <text x="521" y="350">90</text>
  </g>
  <g fill="#4A2360">
    <rect x="556" y="366.25" width="23" height="182.25"/>
    <rect x="686" y="474.25" width="23" height="74.25"/>
    <rect x="816" y="454" width="23" height="94.5"/>
    <rect x="946" y="483.25" width="23" height="65.25"/>
  </g>
  <g fill="#8A2834">
    <rect x="585" y="402.25" width="23" height="146.25"/>
    <rect x="715" y="478.75" width="23" height="69.75"/>
    <rect x="845" y="442.75" width="23" height="105.75"/>
    <rect x="975" y="512.5" width="23" height="36"/>
  </g>
  <g fill="#B04135">
    <rect x="614" y="478.75" width="23" height="69.75"/>
    <rect x="744" y="483.25" width="23" height="65.25"/>
    <rect x="874" y="487.75" width="23" height="60.75"/>
    <rect x="1004" y="499" width="23" height="49.5"/>
  </g>
  <g font-size="14" fill="#111" text-anchor="middle">
    <text x="596" y="570">Kentucky</text>
    <text x="726" y="570">Massachusetts</text>
    <text x="856" y="570">New York</text>
    <text x="986" y="570">Ohio</text>
  </g>
  <rect x="678" y="590" width="8" height="8" fill="#4A2360"/>
  <rect x="745" y="590" width="8" height="8" fill="#8A2834"/>
  <rect x="812" y="590" width="8" height="8" fill="#B04135"/>
  <g font-size="15.5" fill="#111">
    <text x="690" y="599.5" textLength="44">OEND</text>
    <text x="756" y="599.5" textLength="47">MOUD</text>
    <text x="824" y="599.5" textLength="61">Safer Rx</text>
  </g>

  <!-- slide footer -->
  <rect x="419" y="620" width="710" height="79" fill="url(#foot)"/>
  <g fill="#fff" font-weight="bold">
    <text x="470" y="638" font-size="8.5">NIH</text>
    <text x="469.5" y="656.5" font-size="18.5" textLength="52">HEAL</text>
    <text x="470" y="666.5" font-size="9.5" textLength="52">INITIATIVE</text>
    <text x="470" y="680" font-size="5.5" textLength="83">HEALing Communities Study</text>
    <text x="470" y="686.5" font-size="5.5">Kentucky</text>
  </g>
  <rect x="470" y="671" width="88" height="1.5" fill="#fff"/>
  <text x="780" y="661.5" font-size="8" fill="#fff" textLength="281">CHANDLER ET AL. (2022)  DRUG AND ALCOHOL DEPENDENCE, IN PRESS.</text>
  <text x="1090" y="663" font-size="13" fill="#fff">24</text>

  <!-- status bar -->
  <rect x="123" y="720" width="1105" height="16" fill="#E8E8E8"/>
  <line x1="123" y1="720.5" x2="1228" y2="720.5" stroke="#D0D0D0"/>
  <g font-size="7" fill="#555">
    <text x="138" y="731">Slide 24 of 44</text>
    <text x="203" y="731">English (United States)</text>
    <text x="886" y="731">Notes</text>
    <text x="933" y="731">Comments</text>
    <text x="1171" y="731">155%</text>
  </g>
  <path d="M877,726 h6 M877,728.5 h6 M877,731 h6 M879,723.5 l1,-1 l1,1" fill="none" stroke="#666" stroke-width="0.8"/>
  <path d="M924,723.5 h6 v5.5 h-3 l-2,2 v-2 h-1 z" fill="#666"/>
  <rect x="980" y="721" width="22" height="15" fill="#C6C6C6"/>
  <rect x="987" y="724" width="8" height="9" fill="none" stroke="#fff" stroke-width="0.9"/>
  <rect x="987" y="724" width="3" height="4" fill="#fff"/>
  <g fill="#666">
    <rect x="1009" y="724" width="3.2" height="3"/><rect x="1014" y="724" width="3.2" height="3"/><rect x="1009" y="729.5" width="3.2" height="3"/><rect x="1014" y="729.5" width="3.2" height="3"/>
  </g>
  <rect x="1032.5" y="723.5" width="9" height="9" fill="none" stroke="#777" stroke-width="0.8"/>
  <line x1="1037" y1="723.5" x2="1037" y2="732.5" stroke="#777" stroke-width="0.8"/>
  <rect x="1054" y="724" width="8" height="5" fill="none" stroke="#777" stroke-width="0.8"/>
  <path d="M1058,729 v3 M1056,733 h4" stroke="#777" stroke-width="0.8"/>
  <line x1="1076" y1="728.5" x2="1080" y2="728.5" stroke="#666" stroke-width="1"/>
  <line x1="1086" y1="728.5" x2="1150" y2="728.5" stroke="#9A9A9A" stroke-width="1.2"/>
  <circle cx="1122" cy="728.5" r="5" fill="#fff" stroke="#BBB" stroke-width="0.6"/>
  <path d="M1155,728.5 h4.5 M1157.25,726.25 v4.5" stroke="#666" stroke-width="1"/>
  <rect x="1204.5" y="724" width="8" height="8" fill="none" stroke="#777" stroke-width="0.8"/>
</g>
</svg>
</body></html>
